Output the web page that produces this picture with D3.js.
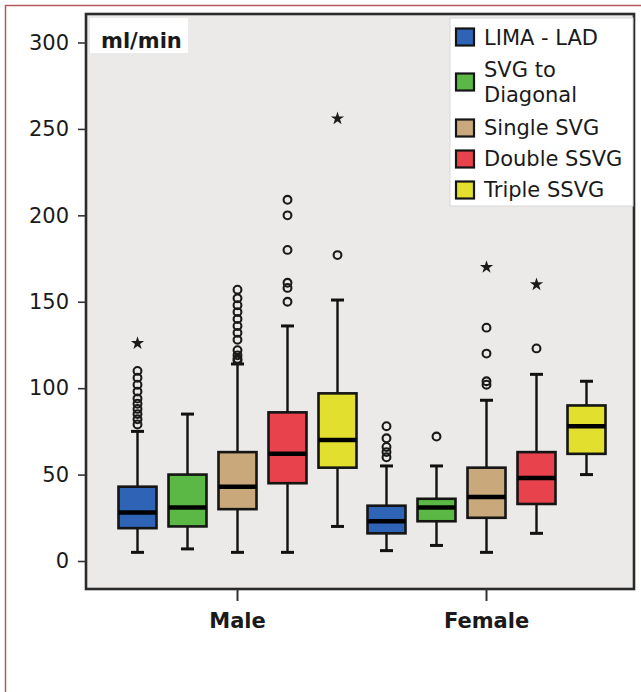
<!DOCTYPE html>
<html>
<head>
<meta charset="utf-8">
<script src="https://cdn.jsdelivr.net/npm/d3@7"></script>
<style>
  html, body { margin: 0; padding: 0; background: #fff; }
  svg { display: block; }
  text { font-family: "DejaVu Sans", Arial, sans-serif; fill: #1a1a1a; }
</style>
</head>
<body>
<svg id="chart" width="641" height="692"></svg>
<script>
// ---------------- data ----------------
const groups = ["Male", "Female"];
const series = ["LIMA - LAD", "SVG to Diagonal", "Single SVG", "Double SSVG", "Triple SSVG"];
const legendLabels = [["LIMA - LAD"], ["SVG to", "Diagonal"], ["Single SVG"], ["Double SSVG"], ["Triple SSVG"]];
const seriesColors = ["#2f63b6", "#5cb845", "#c9a97b", "#e8424c", "#e3df2e"];
const yTicks = [0, 50, 100, 150, 200, 250, 300];
const yUnit = "ml/min";

// [lower whisker, Q1, median, Q3, upper whisker] per series
const maleStats = [
  [5, 19, 28, 43, 75],
  [7, 20, 31, 50, 85],
  [5, 30, 43, 63, 114],
  [5, 45, 62, 86, 136],
  [20, 54, 70, 97, 151]
];
const femaleStats = [
  [6, 16, 23, 32, 55],
  [9, 23, 31, 36, 55],
  [5, 25, 37, 54, 93],
  [16, 33, 48, 63, 108],
  [50, 62, 78, 90, 104]
];
// outliers (circles) per series
const maleOutliers = [
  [110, 106, 102, 98, 94, 91, 88, 85, 82, 79],
  [],
  [157, 152, 148, 144, 140, 136, 132, 128, 122, 119, 117, 116],
  [209, 200, 180, 161, 158, 150],
  [177]
];
const femaleOutliers = [
  [78, 71, 66, 63, 60],
  [72],
  [135, 120, 104, 102],
  [123],
  []
];
// extreme values (stars) per series
const maleExtremes = [[126], [], [], [], [256]];
const femaleExtremes = [[], [], [170], [160], []];

// ---------------- layout ----------------
const svg = d3.select("#chart");
const plot = { left: 86, top: 14, right: 634, bottom: 589 };

// page frame
svg.append("rect")
  .attr("x", 5.5).attr("y", 5.5).attr("width", 800).attr("height", 800)
  .attr("fill", "none").attr("stroke", "#b55a60").attr("stroke-width", 1.5);

// plot background
svg.append("rect")
  .attr("x", plot.left).attr("y", plot.top)
  .attr("width", plot.right - plot.left).attr("height", plot.bottom - plot.top)
  .attr("fill", "#ebeae8");

const y = d3.scaleLinear().domain([0, 300]).range([561, 42.5]);
const x = d3.scaleBand().domain(groups).range([113, 611]).padding(0);
const xs = d3.scaleBand().domain(series).range([0, x.bandwidth()])
  .paddingInner(0.24).paddingOuter(0.11);

const statsByGroup = { Male: maleStats, Female: femaleStats };
const outByGroup = { Male: maleOutliers, Female: femaleOutliers };
const extByGroup = { Male: maleExtremes, Female: femaleExtremes };

const boxes = [];
groups.forEach(g => series.forEach((s, i) => {
  boxes.push({ g, s, i, st: statsByGroup[g][i], out: outByGroup[g][i], ext: extByGroup[g][i] });
}));

const bw = xs.bandwidth();
const cx = d => x(d.g) + xs(d.s) + bw / 2;
const capW = 13;

const bg = svg.append("g").selectAll("g").data(boxes).join("g");

// whiskers
bg.append("line")
  .attr("x1", cx).attr("x2", cx)
  .attr("y1", d => y(d.st[0])).attr("y2", d => y(d.st[1]))
  .attr("stroke", "#111").attr("stroke-width", 2.4);
bg.append("line")
  .attr("x1", cx).attr("x2", cx)
  .attr("y1", d => y(d.st[3])).attr("y2", d => y(d.st[4]))
  .attr("stroke", "#111").attr("stroke-width", 2.4);
bg.append("line")
  .attr("x1", d => cx(d) - capW / 2).attr("x2", d => cx(d) + capW / 2)
  .attr("y1", d => y(d.st[0])).attr("y2", d => y(d.st[0]))
  .attr("stroke", "#111").attr("stroke-width", 3);
bg.append("line")
  .attr("x1", d => cx(d) - capW / 2).attr("x2", d => cx(d) + capW / 2)
  .attr("y1", d => y(d.st[4])).attr("y2", d => y(d.st[4]))
  .attr("stroke", "#111").attr("stroke-width", 3);

// boxes
bg.append("rect")
  .attr("x", d => cx(d) - bw / 2).attr("width", bw)
  .attr("y", d => y(d.st[3])).attr("height", d => y(d.st[1]) - y(d.st[3]))
  .attr("fill", d => seriesColors[d.i])
  .attr("stroke", "#151515").attr("stroke-width", 2.6);

// medians
bg.append("line")
  .attr("x1", d => cx(d) - bw / 2).attr("x2", d => cx(d) + bw / 2)
  .attr("y1", d => y(d.st[2])).attr("y2", d => y(d.st[2]))
  .attr("stroke", "#000").attr("stroke-width", 4.5);

// outliers
bg.selectAll("circle").data(d => d.out.map(v => ({ v, c: cx(d) }))).join("circle")
  .attr("cx", o => o.c).attr("cy", o => y(o.v)).attr("r", 3.9)
  .attr("fill", "none").attr("stroke", "#1a1a1a").attr("stroke-width", 2.1);

// extremes
const star = d3.symbol().type(d3.symbolStar).size(55);
bg.selectAll("path.ext").data(d => d.ext.map(v => ({ v, c: cx(d) }))).join("path")
  .attr("class", "ext")
  .attr("transform", o => `translate(${o.c},${y(o.v)})`)
  .attr("d", star).attr("fill", "#1a1a1a");

// plot frame
svg.append("rect")
  .attr("x", plot.left).attr("y", plot.top)
  .attr("width", plot.right - plot.left).attr("height", plot.bottom - plot.top)
  .attr("fill", "none").attr("stroke", "#2a2a2a").attr("stroke-width", 2.6);

// y axis
const yAxis = d3.axisLeft(y).tickValues(yTicks).tickSize(8).tickPadding(9);
const ya = svg.append("g").attr("transform", `translate(${plot.left},0)`).call(yAxis);
ya.select(".domain").remove();
ya.selectAll(".tick line").attr("stroke", "#333").attr("stroke-width", 1.6);
ya.selectAll(".tick text").style("font-size", "21px").style("font-family", "DejaVu Sans, sans-serif").attr("fill", "#1a1a1a");

// x axis
const xAxis = d3.axisBottom(x).tickSize(12).tickPadding(12);
const xa = svg.append("g").attr("transform", `translate(0,${plot.bottom})`).call(xAxis);
xa.select(".domain").remove();
xa.selectAll(".tick line").attr("stroke", "#333").attr("stroke-width", 2);
xa.selectAll(".tick text").style("font-size", "21px").style("font-weight", "bold")
  .style("font-family", "DejaVu Sans, sans-serif").attr("fill", "#111");

// unit label
svg.append("rect").attr("x", 90).attr("y", 18).attr("width", 98).attr("height", 35).attr("fill", "#fff");
svg.append("text").attr("x", 101).attr("y", 48).text(yUnit)
  .style("font-size", "21px").style("font-weight", "bold");

// legend
const lg = svg.append("g");
lg.append("rect").attr("x", 450).attr("y", 18).attr("width", 183).attr("height", 188)
  .attr("fill", "#fff").attr("stroke", "#d8d8d8").attr("stroke-width", 1);
const rowBase = [45, 77, 135, 166, 197];
const rowSquareY = [37, 82, 128, 159, 190];
series.forEach((s, i) => {
  lg.append("rect").attr("x", 456).attr("y", rowSquareY[i] - 8.5).attr("width", 18).attr("height", 17)
    .attr("fill", seriesColors[i]).attr("stroke", "#151515").attr("stroke-width", 2.2);
  legendLabels[i].forEach((line, j) => {
    lg.append("text").attr("x", 484).attr("y", rowBase[i] + j * 25).text(line)
      .style("font-size", "21px");
  });
});
</script>
</body>
</html>
